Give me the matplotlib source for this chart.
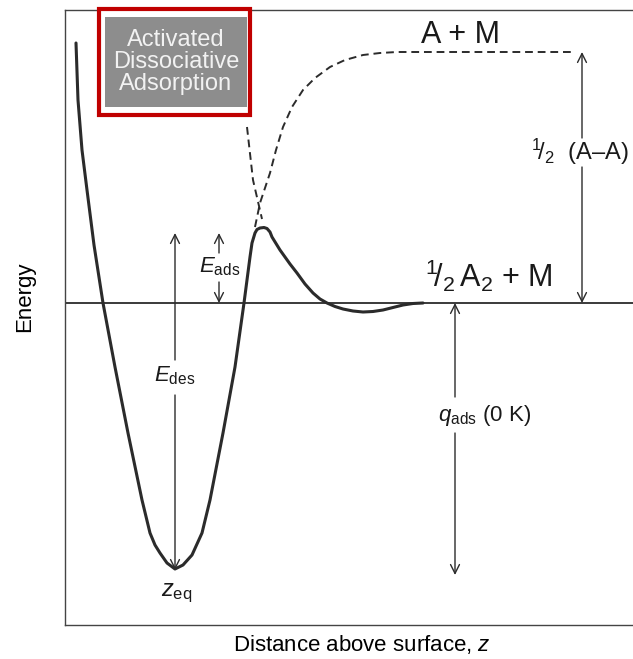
import matplotlib.pyplot as plt
import matplotlib.patches as patches

plt.rcParams['font.family'] = ['Liberation Sans', 'DejaVu Sans']
plt.rcParams['mathtext.fontset'] = 'custom'
plt.rcParams['mathtext.rm'] = 'Liberation Sans'
plt.rcParams['mathtext.it'] = 'Liberation Sans:italic'

# potential energy of the chemisorbed state vs. distance from the surface
z_chem = [0.11, 0.13, 0.17, 0.22, 0.29, 0.38, 0.50, 0.63, 0.77, 0.85, 0.90, 0.95,
          1.02, 1.10, 1.18, 1.27, 1.37, 1.45, 1.58, 1.70, 1.79, 1.85, 1.87, 1.90,
          1.92, 1.95, 1.99, 2.02, 2.05, 2.07, 2.15, 2.25, 2.32, 2.40, 2.48, 2.55,
          2.62, 2.70, 2.78, 2.88, 2.98, 3.08, 3.18, 3.28, 3.38, 3.48, 3.58]
e_chem = [2.60, 2.03, 1.53, 1.13, 0.58, 0.00, -0.64, -1.30, -1.97, -2.30, -2.42, -2.50,
          -2.60, -2.66, -2.62, -2.52, -2.30, -1.97, -1.30, -0.64, 0.00, 0.46, 0.60, 0.70,
          0.735, 0.75, 0.755, 0.745, 0.71, 0.66, 0.53, 0.39, 0.30, 0.19, 0.10, 0.04,
          0.00, -0.035, -0.06, -0.08, -0.09, -0.085, -0.07, -0.045, -0.02, -0.005, 0.00]

# dissociated atoms A + M (dashed branch)
z_atoms = [1.90, 1.95, 2.00, 2.05, 2.11, 2.18, 2.27, 2.38, 2.50, 2.65, 2.80, 2.98,
           3.15, 3.32, 5.07]
e_atoms = [0.76, 1.00, 1.15, 1.30, 1.53, 1.76, 1.96, 2.13, 2.25, 2.36, 2.43, 2.48,
           2.50, 2.51, 2.51]

# repulsive wall of the molecular state (dashed)
z_mol = [1.82, 1.88, 1.97]
e_mol = [1.76, 1.23, 0.84]

e_zero = 0.0       # 1/2 A2 + M reference
e_min = -2.67      # bottom of the well at z_eq
e_barrier = 0.75   # top of the activation barrier
e_atom = 2.51      # A + M level

fig = plt.figure(figsize=(6.33, 6.59), dpi=100)
ax = fig.add_axes([65 / 633, 34 / 659, 1 - 65 / 633, 615 / 659])
ax.set_xlim(0, 5.68)
ax.set_ylim(-3.22, 2.93)
ax.set_xticks([])
ax.set_yticks([])
for s in ['top', 'left', 'bottom']:
    ax.spines[s].set_linewidth(1.0)
    ax.spines[s].set_color('#444444')
ax.spines['right'].set_visible(False)

ink = '#2b2b2b'
ax.axhline(e_zero, color=ink, lw=1.3)
ax.plot(z_chem, e_chem, color=ink, lw=2.2, solid_capstyle='round', solid_joinstyle='round')
ax.plot(z_atoms, e_atoms, color=ink, lw=1.4, ls=(0, (4, 2.5)))
ax.plot(z_mol, e_mol, color=ink, lw=1.4, ls=(0, (4, 2.5)))


def arrow(x, y0, y1):
    ax.annotate('', xy=(x, y1), xytext=(x, y0),
                arrowprops=dict(arrowstyle='->', color=ink, lw=1.0,
                                shrinkA=0, shrinkB=0, mutation_scale=16))


# E_des
arrow(1.10, -0.57, e_barrier - 0.05)
arrow(1.10, -0.92, e_min)
ax.text(1.10, -0.73, r'$E_{\mathrm{des}}$', fontsize=16, ha='center', va='center', color='#1a1a1a')

# E_ads
arrow(1.54, 0.50, e_barrier - 0.05)
arrow(1.54, 0.21, e_zero)
ax.text(1.55, 0.36, r'$E_{\mathrm{ads}}$', fontsize=16, ha='center', va='center', color='#1a1a1a')

# q_ads (0 K)
arrow(3.90, -0.94, e_zero)
arrow(3.90, -1.30, e_min - 0.05)
ax.text(4.20, -1.12, r'$q_{\mathrm{ads}}$ (0 K)', fontsize=16, ha='center', va='center', color='#1a1a1a')

# 1/2 (A-A) bond energy
arrow(5.17, 1.65, e_atom)
arrow(5.17, 1.36, e_zero)
ax.text(5.15, 1.51, r'$^{1}\!/_{2}$  (A–A)', fontsize=17, ha='center', va='center', color='#1a1a1a')

ax.text(3.95, 2.68, 'A + M', fontsize=22, ha='center', va='center', color='#1a1a1a')
ax.text(4.24, 0.27, r'$^{1}\!/_{2}\,\mathrm{A}_{2}$ + M', fontsize=22, ha='center', va='center', color='#1a1a1a')
ax.text(1.12, -2.90, r'$z_{\mathrm{eq}}$', fontsize=17, ha='center', va='center', color='#1a1a1a')

fig.text(25 / 633, 1 - 297 / 659, 'Energy', rotation=90, fontsize=16, ha='center', va='center')
fig.text(362 / 633, 1 - 645 / 659, 'Distance above surface, $z$', fontsize=16, ha='center', va='center')

# highlighted caption box
red = patches.Rectangle((99 / 633, 1 - 115 / 659), 151 / 633, 106 / 659, transform=fig.transFigure,
                        facecolor='white', edgecolor='#c00000', lw=3.0, zorder=5)
grey = patches.Rectangle((105 / 633, 1 - 107 / 659), 142 / 633, 90 / 659, transform=fig.transFigure,
                         facecolor='#8d8d8d', edgecolor='none', zorder=6)
fig.patches.extend([red, grey])
fig.text(176 / 633, 1 - 62 / 659, 'Activated\nDissociative\nAdsorption', fontsize=17,
         color='#f2f2f2', ha='center', va='center', linespacing=1.0, zorder=7)

fig.savefig('out.png', dpi=100)
